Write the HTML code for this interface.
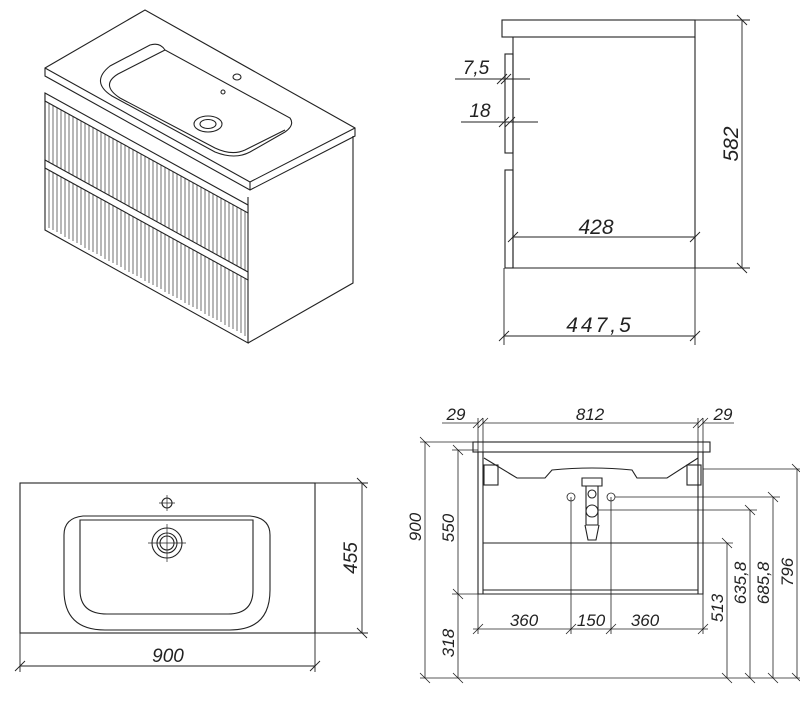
<!DOCTYPE html>
<html><head><meta charset="utf-8"><style>
html,body{margin:0;padding:0;background:#fff;}
svg{display:block}
text{font-family:"Liberation Sans",sans-serif;font-style:italic;fill:#222;stroke:none;}
</style></head><body>
<svg width="800" height="702" viewBox="0 0 800 702" xmlns="http://www.w3.org/2000/svg" fill="none" stroke="#222" stroke-width="1">
<!-- ISO VIEW -->
<g stroke-width="1.1">
<path d="M45,68 L145,10 L355,128 L355,136 L250,190 L45,76 Z" fill="#fff"/>
<path d="M45,68 L250,182 L355,128"/>
<path d="M250,182 L250,190"/>
<path d="M150,45 Q160,42 165,50 L290,118 Q295,125 285,132 L250,152 Q235,160 215,152 L112,96 Q90,82 110,66 Z"/>
<path d="M165,50 L118,74 Q100,85 120,98 L215,148 Q232,156 245,150 L285,130"/>
<ellipse cx="208" cy="124" rx="14" ry="8"/><ellipse cx="208" cy="124" rx="8" ry="4.5"/>
<ellipse cx="237" cy="77" rx="4" ry="3"/><ellipse cx="223" cy="92" rx="2" ry="2"/>
<path d="M45,93 L45,230 L248,343 L248,197"/>
<path d="M248,343 L353,283 L353,136"/>
</g>
<g stroke-width="0.7" stroke="#333">
<path d="M49,99 v129 M53,101 v129 M57,103 v129 M61,105 v129 M65,108 v129 M69,110 v129 M73,112 v129 M77,114 v129 M81,116 v129 M85,119 v129 M89,121 v129 M93,123 v129 M97,125 v129 M101,127 v129 M105,130 v129 M109,132 v129 M113,134 v129 M117,136 v129 M121,138 v129 M125,141 v129 M129,143 v129 M133,145 v129 M137,147 v129 M141,149 v129 M145,152 v129 M149,154 v129 M153,156 v129 M157,158 v129 M161,160 v129 M165,163 v129 M169,165 v129 M173,167 v129 M177,169 v129 M181,171 v129 M185,174 v129 M189,176 v129 M193,178 v129 M197,180 v129 M201,182 v129 M205,185 v129 M209,187 v129 M213,189 v129 M217,191 v129 M221,193 v129 M225,196 v129 M229,198 v129 M233,200 v129 M237,202 v129 M241,204 v129 M245,207 v129"/>
</g>
<path d="M45,160 L248,272 L248,280 L45,168 Z" stroke-width="1.1" fill="#fff"/>
<path d="M45,93 L248,205 L248,213 L45,101 Z" stroke-width="1.1" fill="#fff"/>

<!-- SIDE VIEW -->
<g stroke-width="1.1">
<rect x="502" y="20" width="193" height="17"/>
<path d="M513,37 V268 H695 V37"/>
<rect x="505" y="54" width="8" height="99"/>
<rect x="505" y="170" width="8" height="98"/>
</g>
<g stroke-width="0.9">
<path d="M513,237 H695 M508,242 L518,232 M690,242 L700,232"/>
<path d="M504,268 V345 M695,268 V345 M504,336 H695 M499,341 L509,331 M690,341 L700,331"/>
<path d="M695,20 H750 M695,268 H750 M742,20 V268 M737,15 L747,25 M737,263 L747,273"/>
<path d="M455,79 H530 M497,84 L507,74 M501,84 L511,74 M461,122 H538 M499,127 L509,117 M505,127 L515,117"/>
</g>
<text x="596" y="234" font-size="21" text-anchor="middle">428</text>
<text x="600" y="332" font-size="21" text-anchor="middle" letter-spacing="3">447,5</text>
<text font-size="21" text-anchor="middle" transform="translate(738,144) rotate(-90)">582</text>
<text x="476" y="74" font-size="19" text-anchor="middle">7,5</text>
<text x="480" y="117" font-size="19" text-anchor="middle">18</text>

<!-- TOP VIEW -->
<g stroke-width="1.1">
<rect x="20" y="483" width="295" height="150"/>
<path d="M83,516 L250,516 Q270,518 270,535 L270,590 Q270,630 230,630 L105,630 Q64,630 64,590 L64,535 Q64,518 83,516 Z"/>
<path d="M80,520 L253,520 L253,590 Q253,614 228,614 L107,614 Q80,614 80,590 Z"/>
<circle cx="167" cy="503" r="5"/>
<circle cx="167" cy="543" r="15"/><circle cx="167" cy="543" r="10"/><circle cx="167" cy="543" r="7"/>
</g>
<g stroke-width="0.7"><path d="M159,503 H175 M167,495 V511 M148,543 H186 M167,524 V562"/></g>
<g stroke-width="0.9">
<path d="M20,633 V672 M315,633 V672 M20,666 H315 M15,671 L25,661 M310,671 L320,661"/>
<path d="M315,483 H368 M315,633 H368 M362,483 V633 M357,478 L367,488 M357,628 L367,638"/>
</g>
<text x="168" y="662" font-size="19" text-anchor="middle">900</text>
<text font-size="19" text-anchor="middle" transform="translate(357,558) rotate(-90)">455</text>

<!-- FRONT VIEW -->
<g stroke-width="1.1">
<rect x="473" y="442" width="237" height="10"/>
<path d="M478,452 V594 H703 V452 M483,452 V594 M698,452 V594"/>
<path d="M483,543 H698 M483,590 H698"/>
<path d="M484,458 L517,478 H545 L552,470 Q592,466 632,470 L637,478 H667 L698,458" />
<rect x="484" y="465" width="14" height="20"/><rect x="687" y="465" width="14" height="20"/>
<path d="M582,478 H602 V486 H582 Z M586,486 V525 H598 V486 M585,525 L588,540 H596 L599,525"/>
<circle cx="592" cy="511" r="6"/><circle cx="592" cy="494" r="4"/>
</g>
<g stroke-width="0.8">
<circle cx="571" cy="497" r="4"/><circle cx="611" cy="497" r="4"/>
<path d="M571,497 V634 M611,497 V634 M478,594 V634 M703,594 V634 M473,629 H708 M473,634 L483,624 M566,634 L576,624 M606,634 L616,624 M698,634 L708,624"/>
<path d="M478,418 V452 M483,418 V452 M698,418 V452 M703,418 V452 M442,423 H478 M483,423 H698 M703,423 H734 M473,428 L483,418 M478,428 L488,418 M693,428 L703,418 M698,428 L708,418"/>
<path d="M420,442 H473 M425,442 V678 M420,437 L430,447 M420,673 L430,683"/>
<path d="M452,450 H478 M458,450 V678 M453,445 L463,455 M453,589 L463,599 M453,673 L463,683 M452,594 H478"/>
<path d="M420,678 H800"/>
<path d="M698,543 H733 M727,543 V678 M722,538 L732,548 M722,673 L732,683"/>
<path d="M598,510 H757 M750,510 V678 M745,505 L755,515 M745,673 L755,683"/>
<path d="M615,497 H780 M773,497 V678 M768,492 L778,502 M768,673 L778,683"/>
<path d="M703,469 H800 M797,469 V678 M792,464 L800,472 M792,673 L800,681"/>
</g>
<text x="456" y="420" font-size="17" text-anchor="middle">29</text>
<text x="590" y="420" font-size="17" text-anchor="middle">812</text>
<text x="723" y="420" font-size="17" text-anchor="middle">29</text>
<text x="524" y="626" font-size="17" text-anchor="middle">360</text>
<text x="591" y="626" font-size="17" text-anchor="middle">150</text>
<text x="645" y="626" font-size="17" text-anchor="middle">360</text>
<text font-size="17" text-anchor="middle" transform="translate(421,527) rotate(-90)">900</text>
<text font-size="17" text-anchor="middle" transform="translate(454,528) rotate(-90)">550</text>
<text font-size="17" text-anchor="middle" transform="translate(454,643) rotate(-90)">318</text>
<text font-size="17" text-anchor="middle" transform="translate(723,608) rotate(-90)">513</text>
<text font-size="17" text-anchor="middle" transform="translate(746,583) rotate(-90)">635,8</text>
<text font-size="17" text-anchor="middle" transform="translate(769,583) rotate(-90)">685,8</text>
<text font-size="17" text-anchor="middle" transform="translate(793,572) rotate(-90)">796</text>
</svg>
</body></html>
